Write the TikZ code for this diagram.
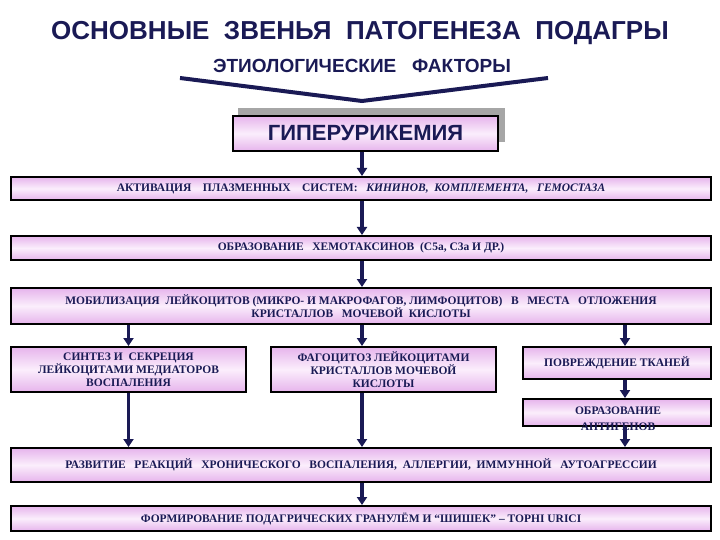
\documentclass[tikz,border=0pt]{standalone}
\usepackage{fontspec}
\setmainfont{Liberation Serif}
\newfontfamily\hsans{Liberation Sans}
\usetikzlibrary{arrows.meta}
\definecolor{navy}{HTML}{1A1A55}
\definecolor{pk}{HTML}{E6B4EC}
\definecolor{pkl}{HTML}{FBEEFC}
\begin{document}
\begin{tikzpicture}[x=1pt,y=-1pt,
 bx/.style={draw=black,line width=2pt,top color=pk,bottom color=pk,middle color=pkl,text=navy,font=\fontsize{11.5}{13}\selectfont\bfseries,align=center,inner sep=0pt,anchor=north west},
 ar/.style={navy,line width=3.5pt,-{Triangle[length=8pt,width=10pt]}}]
\useasboundingbox (0,0) rectangle (720,540);
\node[font=\hsans\bfseries\fontsize{26}{30}\selectfont,text=navy] (title) at (360,33) {ОСНОВНЫЕ\ \ ЗВЕНЬЯ\ \ ПАТОГЕНЕЗА\ \ ПОДАГРЫ};
\node[font=\hsans\bfseries\fontsize{19}{22}\selectfont,text=navy] (etio) at (362,66) {ЭТИОЛОГИЧЕСКИЕ\ \ \ ФАКТОРЫ};
\coordinate (l) at (180,78); \coordinate (r) at (548,78); \coordinate (m) at (362,101);
\draw[navy,line width=4pt] (l) -- (m) -- (r);
\fill[gray!70] (238,108) rectangle (505,142);
\node[bx,minimum width=265pt,minimum height=35pt,font=\hsans\bfseries\fontsize{22}{24}\selectfont] (hyp) at (232,115) {ГИПЕРУРИКЕМИЯ};
\node[bx,minimum width=700pt,minimum height=23pt] (b1) at (10,176) {АКТИВАЦИЯ\ \ \ \ ПЛАЗМЕННЫХ\ \ \ \ СИСТЕМ:\ \ \ \textit{КИНИНОВ,\ \ КОМПЛЕМЕНТА,\ \ \ ГЕМОСТАЗА}};
\node[bx,minimum width=700pt,minimum height=24pt] (b2) at (10,235) {ОБРАЗОВАНИЕ\ \ \ ХЕМОТАКСИНОВ\ \ (С5а, С3а И ДР.)};
\node[bx,minimum width=700pt,minimum height=36pt] (b3) at (10,287) {МОБИЛИЗАЦИЯ\ \ ЛЕЙКОЦИТОВ (МИКРО- И МАКРОФАГОВ, ЛИМФОЦИТОВ)\ \ \ В\ \ \ МЕСТА\ \ \ ОТЛОЖЕНИЯ\\КРИСТАЛЛОВ\ \ \ МОЧЕВОЙ\ \ КИСЛОТЫ};
\node[bx,minimum width=235pt,minimum height=45pt] (b4a) at (10,346) {СИНТЕЗ\ И\ \ СЕКРЕЦИЯ\\ЛЕЙКОЦИТАМИ МЕДИАТОРОВ\\ВОСПАЛЕНИЯ};
\node[bx,minimum width=225pt,minimum height=45pt] (b4b) at (270,346) {ФАГОЦИТОЗ ЛЕЙКОЦИТАМИ\\КРИСТАЛЛОВ МОЧЕВОЙ\\КИСЛОТЫ};
\node[bx,minimum width=188pt,minimum height=32pt] (b4c) at (522,346) {ПОВРЕЖДЕНИЕ ТКАНЕЙ};
\node[bx,minimum width=188pt,minimum height=27pt] (b5) at (522,398) {};
\node[text=navy,font=\fontsize{11.5}{16}\selectfont\bfseries,align=center] (b5t) at (618,419) {ОБРАЗОВАНИЕ\\АНТИГЕНОВ};
\node[bx,minimum width=700pt,minimum height=34pt] (b6) at (10,447) {РАЗВИТИЕ\ \ \ РЕАКЦИЙ\ \ \ ХРОНИЧЕСКОГО\ \ \ ВОСПАЛЕНИЯ,\ \ АЛЛЕРГИИ,\ \ ИММУННОЙ\ \ \ АУТОАГРЕССИИ};
\node[bx,minimum width=700pt,minimum height=25pt] (b7) at (10,505) {ФОРМИРОВАНИЕ ПОДАГРИЧЕСКИХ ГРАНУЛЁМ И “ШИШЕК” – TOPHI URICI};
\coordinate (cx) at (362,0);
\coordinate (cx2) at (625,0);
\draw[ar] (cx |- hyp.south) -- (cx |- b1.north);
\draw[ar] (cx |- b1.south) -- (cx |- b2.north);
\draw[ar] (cx |- b2.south) -- (cx |- b3.north);
\draw[ar] (b4a.north |- b3.south) -- (b4a.north);
\draw[ar] (cx |- b3.south) -- (cx |- b4b.north);
\draw[ar] (cx2 |- b3.south) -- (cx2 |- b4c.north);
\draw[ar] (cx2 |- b4c.south) -- (cx2 |- b5.north);
\draw[ar] (b4a.south) -- (b4a.south |- b6.north);
\draw[ar] (cx |- b4b.south) -- (cx |- b6.north);
\draw[ar] (cx2 |- b5.south) -- (cx2 |- b6.north);
\draw[ar] (cx |- b6.south) -- (cx |- b7.north);
\end{tikzpicture}
\end{document}
